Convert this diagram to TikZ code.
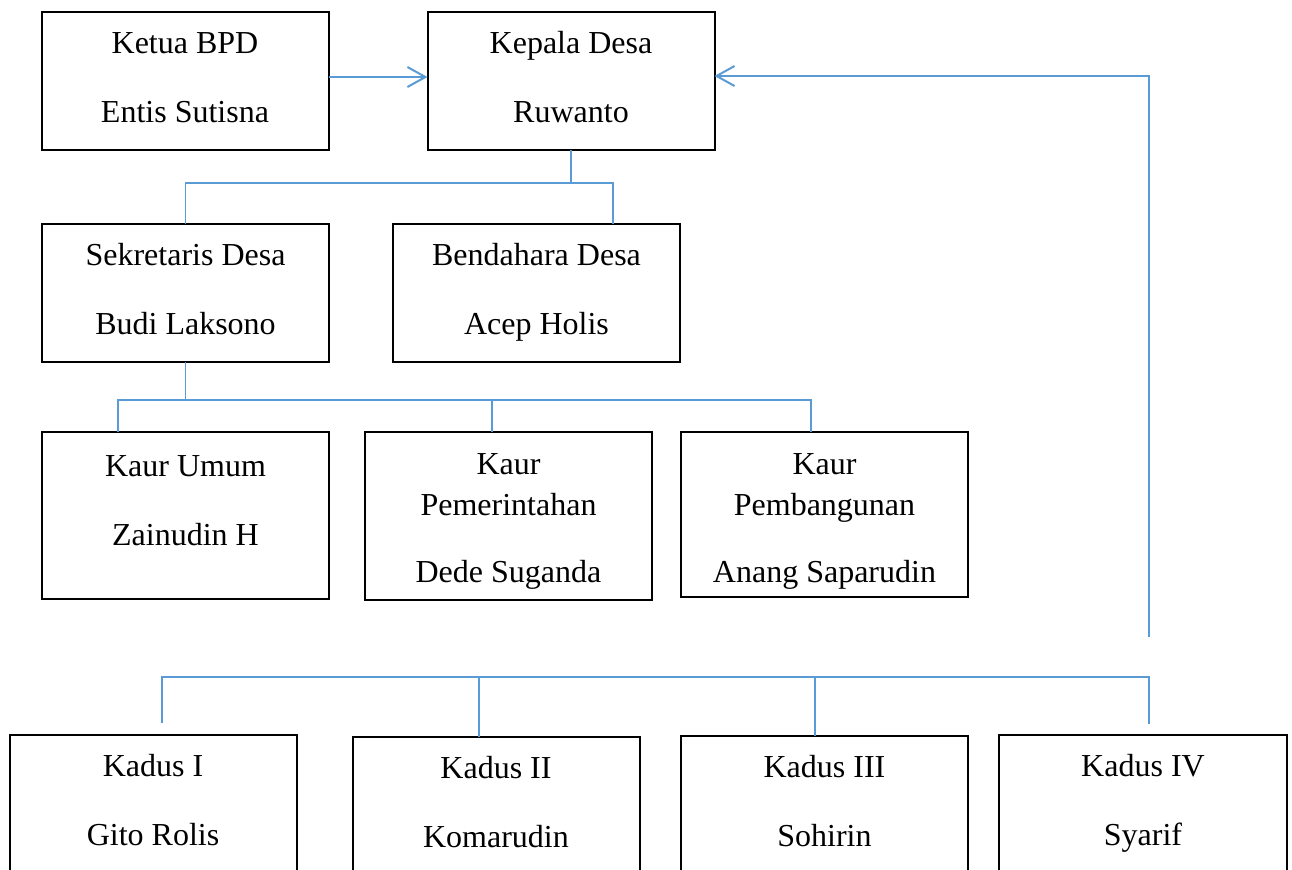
\documentclass[tikz,border=0pt]{standalone}
\usepackage{fontspec}
\setmainfont{Liberation Serif}
\usetikzlibrary{arrows.meta}
\definecolor{wordblue}{RGB}{91,155,213}

\begin{document}
\begin{tikzpicture}[x=0.5pt, y=-0.5pt,
     unit/.style={draw, line width=1pt, minimum width=143.5pt, minimum height=69pt, inner sep=0pt, outer sep=0pt},
     txt/.style={anchor=base, inner sep=0pt, font=\fontsize{16pt}{19pt}\selectfont},
     link/.style={wordblue, line width=0.65pt},
     feed/.style={wordblue, line width=1pt, -{Straight Barb[length=9pt, width=10pt]}}]

   \path[use as bounding box] (0,0) rectangle (1292,869);
   \clip (0,0) rectangle (1292,869);

   % top row
   \node[unit] (bpd) at (185,81) {};
   \node[txt] (bpd-a) at ([yshift=-20.5pt]bpd.north) {Ketua BPD};
   \node[txt] (bpd-b) at ([yshift=-55pt]bpd.north) {Entis Sutisna};

   \node[unit] (kades) at (571,81) {};
   \node[txt] (kades-a) at ([yshift=-20.5pt]kades.north) {Kepala Desa};
   \node[txt] (kades-b) at ([yshift=-55pt]kades.north) {Ruwanto};

   % second row
   \node[unit] (sekdes) at (185.5,293) {};
   \node[txt] (sekdes-a) at ([yshift=-20.5pt]sekdes.north) {Sekretaris Desa};
   \node[txt] (sekdes-b) at ([yshift=-55pt]sekdes.north) {Budi Laksono};

   \node[unit] (bend) at (536.5,293) {};
   \node[txt] (bend-a) at ([yshift=-20.5pt]bend.north) {Bendahara Desa};
   \node[txt] (bend-b) at ([yshift=-55pt]bend.north) {Acep Holis};

   % kaur
   \node[unit, minimum height=83.5pt] (kumum) at (185.5,515.5) {};
   \node[txt] (kumum-a) at ([yshift=-22pt]kumum.north) {Kaur Umum};
   \node[txt] (kumum-b) at ([yshift=-56.5pt]kumum.north) {Zainudin H};

   \node[unit, minimum height=84pt] (kpem) at (508.5,516) {};
   \node[txt] (kpem-a) at ([yshift=-21pt]kpem.north) {Kaur};
   \node[txt] (kpem-b) at ([yshift=-41.5pt]kpem.north) {Pemerintahan};
   \node[txt] (kpem-c) at ([yshift=-75pt]kpem.north) {Dede Suganda};

   \node[unit, minimum height=82.5pt] (kpemb) at (824.5,514.5) {};
   \node[txt] (kpemb-a) at ([yshift=-21pt]kpemb.north) {Kaur};
   \node[txt] (kpemb-b) at ([yshift=-41.5pt]kpemb.north) {Pembangunan};
   \node[txt] (kpemb-c) at ([yshift=-75pt]kpemb.north) {Anang Saparudin};

   % kadus
   \node[unit, minimum height=90pt] (kadus1) at (153,825) {};
   \node[txt] (kadus1-a) at ([yshift=-20.5pt]kadus1.north) {Kadus I};
   \node[txt] (kadus1-b) at ([yshift=-55pt]kadus1.north) {Gito Rolis};

   \node[unit, minimum height=90pt] (kadus2) at (496,827) {};
   \node[txt] (kadus2-a) at ([yshift=-20.5pt]kadus2.north) {Kadus II};
   \node[txt] (kadus2-b) at ([yshift=-55pt]kadus2.north) {Komarudin};

   \node[unit, minimum height=90pt] (kadus3) at (824.5,826) {};
   \node[txt] (kadus3-a) at ([yshift=-20.5pt]kadus3.north) {Kadus III};
   \node[txt] (kadus3-b) at ([yshift=-55pt]kadus3.north) {Sohirin};

   \node[unit, minimum width=144pt, minimum height=90pt] (kadus4) at (1143,825) {};
   \node[txt] (kadus4-a) at ([yshift=-20.5pt]kadus4.north) {Kadus IV};
   \node[txt] (kadus4-b) at ([yshift=-55pt]kadus4.north) {Syarif};

   % connectors
   \draw[feed] ([yshift=2pt]bpd.east) -- ([yshift=2pt]kades.west);

   \draw[link] (kades.south) -- ++(0,33) coordinate (j1);
   \draw[link] (sekdes.north) |- (j1) -| ([xshift=38.25pt]bend.north);

   \draw[link] (sekdes.south) -- ++(0,38) coordinate (j2);
   \coordinate (kumum-in) at ([xshift=-33.75pt]kumum.north);
   \coordinate (kpem-in) at ([xshift=-8.25pt]kpem.north);
   \coordinate (kpemb-in) at ([xshift=-6.75pt]kpemb.north);
   \draw[link] (kumum-in) |- (j2) -| (kpemb-in);
   \draw[link] (kpem-in) -- (kpem-in |- j2);

   \coordinate (bus) at (162,677);
   \coordinate (kadus1-in) at ([xshift=4.5pt,yshift=6pt]kadus1.north);
   \coordinate (kadus2-in) at ([xshift=-8.5pt]kadus2.north);
   \coordinate (kadus3-in) at ([xshift=-4.75pt]kadus3.north);
   \coordinate (kadus4-in) at ([xshift=3pt,yshift=5.5pt]kadus4.north);
   \draw[link] (kadus1-in) |- (bus) -| (kadus4-in);
   \draw[link] (kadus2-in) -- (kadus2-in |- bus);
   \draw[link] (kadus3-in) -- (kadus3-in |- bus);

   \coordinate (up) at (1149,637);
   \draw[feed] (up) |- ([yshift=2.5pt]kades.east);
\end{tikzpicture}
\end{document}
